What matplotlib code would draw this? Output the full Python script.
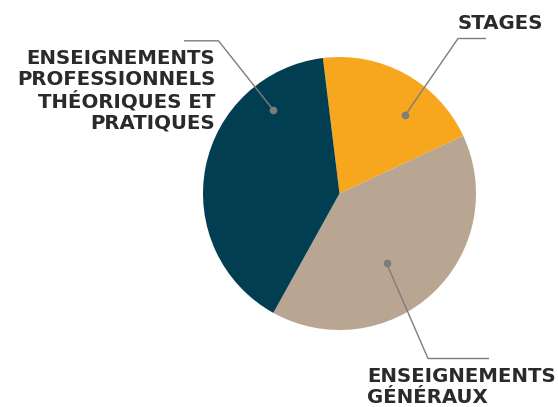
import numpy as np
import matplotlib
matplotlib.use("Agg")
import matplotlib.pyplot as plt

# Data
categories = ["STAGES", "ENSEIGNEMENTS\nGÉNÉRAUX",
              "ENSEIGNEMENTS\nPROFESSIONNELS\nTHÉORIQUES ET\nPRATIQUES"]
values = [20, 40, 40]
colors = ["#f7a71e", "#b8a692", "#023e51"]

W, H = 558, 407
fig = plt.figure(figsize=(W / 100, H / 100), dpi=100)
ax = fig.add_axes([0, 0, 1, 1])

cx, cy, R = 339.5, H - 193.5, 136.5
wedges, _ = ax.pie(values, colors=colors, startangle=97, counterclock=False,
                   center=(cx, cy), radius=R, frame=True,
                   wedgeprops=dict(linewidth=0))
ax.set_xlim(0, W)
ax.set_ylim(0, H)
ax.set_aspect("equal")
ax.axis("off")

line_col = "#7d7d7d"
text_col = "#2a2a2a"
font = dict(family="DejaVu Sans", fontsize=14.2, color=text_col, fontweight="bold")

leaders = [
    dict(ang=50, rf=0.752, elbow=(458, H - 38.5), end=(486, H - 38.5)),
    dict(ang=-56, rf=0.617, elbow=(428, H - 358.5), end=(489, H - 358.5)),
    dict(ang=128.4, rf=0.781, elbow=(218.5, H - 40.8), end=(184, H - 40.8)),
]
for ld in leaders:
    a = np.deg2rad(ld["ang"])
    px = cx + ld["rf"] * R * np.cos(a)
    py = cy + ld["rf"] * R * np.sin(a)
    ax.plot([px, ld["elbow"][0], ld["end"][0]], [py, ld["elbow"][1], ld["end"][1]],
            color=line_col, lw=1.0, solid_capstyle="butt")
    ax.plot([px], [py], "o", color=line_col, ms=4.5)

ax.text(543, H - 14, categories[0], ha="right", va="top", **font)
ax.text(367, H - 367, categories[1], ha="left", va="top", linespacing=1.12, **font)
ax.text(215.5, H - 49, categories[2], ha="right", va="top", linespacing=1.12, **font)

fig.savefig("out.png", dpi=100)
